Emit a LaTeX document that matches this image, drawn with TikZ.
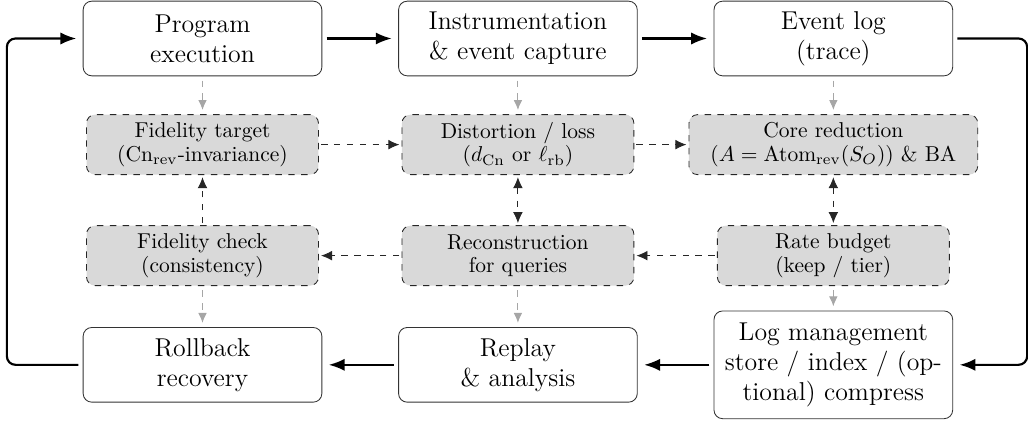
\documentclass[tikz,border=0pt]{standalone}
\usetikzlibrary{positioning,arrows.meta}

\begin{document}
\begin{tikzpicture}[
    node distance=1.24cm,
    stage/.style={draw=black!80, rounded corners=4pt, minimum width=3.9cm, minimum height=1.22cm, align=center, font=\large},
    metric/.style={draw=black!85, dashed, fill=gray!30, rounded corners=4pt, minimum width=3.79cm, minimum height=0.98cm, inner xsep=10pt, align=center, font=\fontsize{10}{11}\selectfont},
    flow/.style={-{Latex[length=2.6mm,width=2mm]}, line width=1pt, shorten >=3pt, shorten <=2pt},
    feed/.style={-{Latex[length=1.6mm,width=1.4mm]}, dashed, black!35, shorten >=2pt, shorten <=2pt},
    link/.style={-{Latex[length=1.8mm,width=1.6mm]}, dashed, black!85, shorten >=1pt, shorten <=1pt},
    both/.style={{Latex[length=1.8mm,width=1.6mm]}-{Latex[length=1.8mm,width=1.6mm]}}
]
\useasboundingbox (-3.309,0.629) rectangle (13.489,-6.25);

% Boucle principale
\node[stage] (program) {Program\\ execution};
\node[stage, right=of program] (capture) {Instrumentation\\ \& event capture};
\node[stage, right=of capture] (eventlog) {Event log\\ (trace)};

% Couche d'analyse
\node[metric, below=0.62cm of program] (target) {Fidelity target\\ (Cn$_{\mathrm{rev}}$-invariance)};
\node[metric, below=0.62cm of capture] (distortion) {Distortion / loss\\ ($d_{\mathrm{Cn}}$ or $\ell_{\mathrm{rb}}$)};
\node[metric, below=0.62cm of eventlog] (core) {Core reduction\\ ($A=\mathrm{Atom}_{\mathrm{rev}}(S_O)$) \& BA};

\node[metric, below=0.82cm of target] (check) {Fidelity check\\ (consistency)};
\node[metric, below=0.82cm of distortion] (recon) {Reconstruction\\ for queries};
\node[metric, below=0.82cm of core] (budget) {Rate budget\\ (keep / tier)};

\node[stage, below=0.67cm of check] (rollback) {Rollback\\ recovery};
\node[stage, right=of rollback] (replay) {Replay\\ \& analysis};
\node[stage, right=of replay, minimum height=1.76cm] (logmgmt) {Log management\\ store / index / (op-\\tional) compress};

% Liens
\draw[flow] (program) -- (capture);
\draw[flow] (capture) -- (eventlog);
\draw[flow, rounded corners=4pt] (eventlog.east) -- ++(1.21,0) |- (logmgmt.east);
\draw[flow] (logmgmt) -- (replay);
\draw[flow] (replay) -- (rollback);
\draw[flow, rounded corners=4pt] (rollback.west) -- ++(-1.24,0) |- (program.west);

\draw[feed] (program) -- (target);
\draw[feed] (capture) -- (distortion);
\draw[feed] (eventlog) -- (core);
\draw[feed] (check) -- (rollback);
\draw[feed] (recon) -- (replay);
\draw[feed] (budget) -- (logmgmt);

\draw[link] (target) -- (distortion);
\draw[link] (distortion) -- (core);
\draw[link] (check) -- (target);
\draw[link, both] (distortion) -- (recon);
\draw[link, both] (core) -- (budget);
\draw[link] (budget) -- (recon);
\draw[link] (recon) -- (check);

\end{tikzpicture}
\end{document}
